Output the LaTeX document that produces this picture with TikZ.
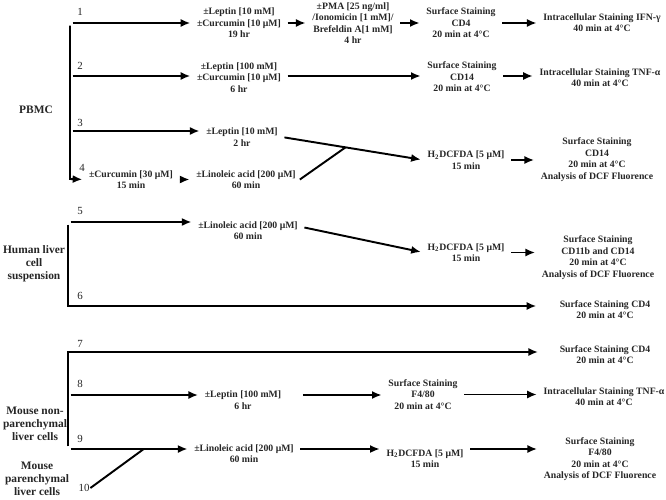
\documentclass[tikz,border=0pt]{standalone}
\usepackage{fontspec}
\setmainfont{Liberation Serif}
\usetikzlibrary{arrows.meta,calc}

\begin{document}
\begin{tikzpicture}[x=0.02cm,y=-0.02cm,line width=1.1pt,
  arr/.style={-{Latex[length=5.5pt,width=4.6pt]},shorten >=1.5pt,shorten <=1.5pt},
  txt/.style={font=\fontsize{5.55}{6.5}\selectfont\bfseries,align=center,inner sep=1.8pt,text=black!85},
  num/.style={font=\fontsize{6.2}{7}\selectfont,inner sep=0pt,text=black!85},
  src/.style={font=\fontsize{6.5}{7.5}\selectfont\bfseries,align=center,inner sep=0pt,text=black!85}]
\useasboundingbox (0,0) rectangle (666,500);

\node[src] (pbmc) at (36,110) {PBMC};
\node[src] (hlc) at (34,264) {Human liver\\cell\\suspension};
\node[src] (mnp) at (35,424) {Mouse non-\\parenchymal\\liver cells};
\node[src] (mpc) at (37,479) {Mouse\\parenchymal\\liver cells};

\node[num] (n1) at (80,12) {1};
\node[num] (n2) at (80,66) {2};
\node[num] (n3) at (80,123) {3};
\node[num] (n4) at (82,168) {4};
\node[num] (n5) at (80,211) {5};
\node[num] (n6) at (80,296) {6};
\node[num] (n7) at (80,344) {7};
\node[num] (n8) at (80,384) {8};
\node[num] (n9) at (80,439) {9};
\node[num] (n10) at (84,488) {10};

\coordinate (t1) at (70,23);
\coordinate (t2) at (70,76);
\coordinate (t3) at (70,131);
\coordinate (t4) at (70,179);
\coordinate (t5) at (68,222);
\coordinate (t6) at (68,306);
\coordinate (t7) at (68,352);
\coordinate (t8) at (68,395);
\coordinate (t9) at (68,449);

\node[txt] (lep1) at (239,23) {±Leptin [10 mM]\\±Curcumin [10 μM]\\19 hr};
\node[txt] (pma) at (353,23) {±PMA [25 ng/ml]\\/Ionomicin [1 mM]/\\Brefeldin A[1 mM]\\4 hr};
\node[txt] (cd4a) at (461,23) {Surface Staining\\CD4\\20 min at 4°C};
\node[txt] (ifn) at (602,22.5) {Intracellular Staining IFN-γ\\40 min at 4°C};
\node[txt] (lep2) at (239,77.5) {±Leptin [100 mM]\\±Curcumin [10 μM]\\6 hr};
\node[txt] (cd14a) at (462,77) {Surface Staining\\CD14\\20 min at 4°C};
\node[txt] (tnfa) at (600,77.5) {Intracellular Staining TNF-α\\40 min at 4°C};
\node[txt] (lep3) at (242,137) {±Leptin [10 mM]\\2 hr};
\node[txt] (cur4) at (131,179.5) {±Curcumin [30 μM]\\15 min};
\node[txt] (lin4) at (246,179.5) {±Linoleic acid [200 μM]\\60 min};
\node[txt] (h2a) at (466,160) {H\textsubscript{2}DCFDA [5 μM]\\15 min};
\node[txt] (cd14b) at (597,159.5) {Surface Staining\\CD14\\20 min at 4°C\\Analysis of DCF Fluorence};
\node[txt] (lin5) at (248,230.5) {±Linoleic acid [200 μM]\\60 min};
\node[txt] (h2b) at (466,252.5) {H\textsubscript{2}DCFDA [5 μM]\\15 min};
\node[txt] (cd11b) at (598,257.5) {Surface Staining\\CD11b and CD14\\20 min at 4°C\\Analysis of DCF Fluorence};
\node[txt] (cd4b) at (605,309.5) {Surface Staining CD4\\20 min at 4°C};
\node[txt] (cd4c) at (605,354.5) {Surface Staining CD4\\20 min at 4°C};
\node[txt] (lep8) at (243,400) {±Leptin [100 mM]\\6 hr};
\node[txt] (f480) at (423,394.5) {Surface Staining\\F4/80\\20 min at 4°C};
\node[txt] (tnfb) at (604,396.5) {Intracellular Staining TNF-α\\40 min at 4°C};
\node[txt] (lin9) at (244,453.5) {±Linoleic acid [200 μM]\\60 min};
\node[txt] (h2c) at (425,458.5) {H\textsubscript{2}DCFDA [5 μM]\\15 min};
\node[txt] (f480b) at (600,459) {Surface Staining\\F4/80\\20 min at 4°C\\Analysis of DCF Fluorence};

\draw[arr] (t1) -- (t4) -- (cur4.west);
\draw[arr] (t1) -- (lep1.west);
\draw[arr] (t2) -- (t2 -| lep2.west);
\draw[arr] (t3) -- (t3 -| lep3.west);
\draw[arr] (lep1.east) -- (pma.west);
\draw[arr] (pma.east) -- (cd4a.west);
\draw[arr] (cd4a.east) -- (cd4a.east -| ifn.west);
\draw[arr] (t2 -| lep2.east) -- (t2 -| cd14a.west);
\draw[arr] (t2 -| cd14a.east) -- (t2 -| tnfa.west);
\draw[arr] (cur4.east) -- (lin4.west);
\draw[arr] (lep3.east) -- (h2a.west);
\draw (lin4.east) -- ($(lep3.east)!0.45!(h2a.west)$);
\draw[arr] (h2a.east) -- (h2a.east -| cd14b.west);

\draw[arr] (t5) -- (t5 -| lin5.west);
\draw[arr,shorten >=11pt] (t5) -- (t6) -- (t6 -| cd4b.west);
\draw[arr] ([yshift=2pt]lin5.east) -- (h2b.west);
\draw[arr] (h2b.east) -- (h2b.east -| cd11b.west);

\draw[arr,shorten >=10pt] (t9) -- (t7) -- (t7 -| cd4c.west);
\draw[arr] (t8) -- (t8 -| lep8.west);
\draw[arr,shorten <=10pt] (t8 -| lep8.east) -- (t8 -| f480.west);
\draw[arr] (f480.east) -- (f480.east -| tnfb.west);
\draw[arr] (t9) -- (t9 -| lin9.west);
\draw[arr] (t9 -| lin9.east) -- (t9 -| h2c.west);
\draw[arr] (t9 -| h2c.east) -- (t9 -| f480b.west);
\draw (n10.east) -- ($(t9)!0.62!(t9 -| lin9.west)$);
\end{tikzpicture}
\end{document}
